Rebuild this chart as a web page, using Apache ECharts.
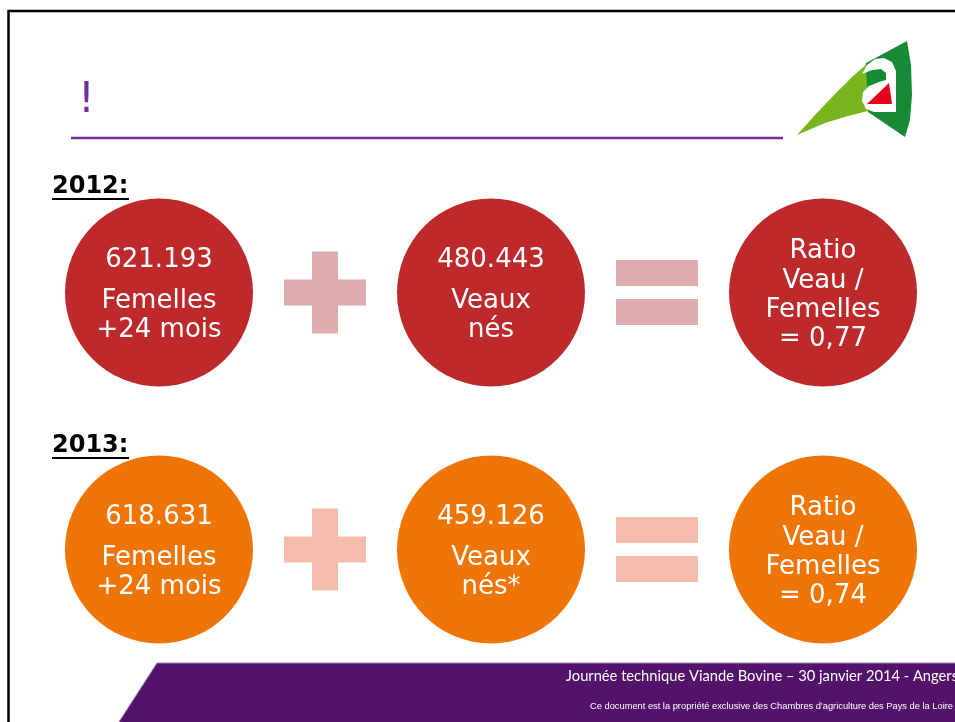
<!DOCTYPE html>
<html>
<head>
<meta charset="utf-8">
<script src="https://cdn.jsdelivr.net/npm/echarts@6/dist/echarts.min.js"></script>
<style>
  html, body { margin: 0; padding: 0; background: #fff; }
  #chart { width: 955px; height: 722px; }
</style>
</head>
<body>
<div id="chart"></div>
<script>
const years = ['2012', '2013']
const femelles = [621193, 618631]
const veaux = [480443, 459126]
const ratios = [0.77, 0.74]
const veauxNote = ['', '*']
const columns = ['femelles', 'plus', 'veaux', 'egal', 'ratio']

const rowColors = ['#BE2A2C', '#EE7506']
const signColors = ['#DDADAE', '#F4BDAB']
const font = '"DejaVu Sans", Verdana, sans-serif'

// 621193 -> 621.193
function fmt(n) {
  return String(n).replace(/\B(?=(\d{3})+(?!\d))/g, '.')
}

const circleData = []
const plusData = []
const egalData = []
years.forEach((y, i) => {
  circleData.push({
    value: [0, i],
    itemStyle: { color: rowColors[i] },
    label: { formatter: `{n|${fmt(femelles[i])}}\n{t|Femelles}\n{t|+24 mois}`, offset: [0, -3] },
  })
  circleData.push({
    value: [2, i],
    itemStyle: { color: rowColors[i] },
    label: { formatter: `{n|${fmt(veaux[i])}}\n{t|Veaux}\n{t|nés${veauxNote[i]}}`, offset: [0, -3] },
  })
  circleData.push({
    value: [4, i],
    itemStyle: { color: rowColors[i] },
    label: { formatter: `{t|Ratio}\n{t|Veau /}\n{t|Femelles}\n{t|= ${ratios[i].toFixed(2).replace('.', ',')}}`, offset: [0, 3] },
  })
  plusData.push({ value: [1, i], itemStyle: { color: signColors[i] } })
  egalData.push({ value: [3, i], itemStyle: { color: signColors[i] } })
})

// textes et décor de la diapo
const graphics = [
  { type: 'rect', shape: { x: 8.5, y: 11, width: 980, height: 740 }, style: { fill: 'none', stroke: '#000', lineWidth: 2.5 } },
  { type: 'text', x: 78, y: 101, style: { text: '!', font: '42px ' + font, fill: '#7030A0', verticalAlign: 'middle' } },
  { type: 'line', shape: { x1: 71, y1: 138, x2: 783, y2: 138 }, style: { stroke: '#7030A0', lineWidth: 2.5 } },
  // logo
  { type: 'polygon', shape: { points: [[797, 135], [815, 115], [835, 94], [852, 77], [868, 63], [868, 111], [848, 116], [825, 123]] }, style: { fill: '#79B51E' } },
  { type: 'polygon', shape: { points: [[907, 41], [866, 63], [868, 112], [905, 137], [910, 120], [912, 95], [911, 65]] }, style: { fill: '#178A36' } },
  {
    type: 'polygon',
    shape: { points: [[862, 74], [867, 65], [875, 59], [884, 58], [892, 62], [896, 71], [896, 112], [874, 112], [866, 109], [862, 101], [863, 92], [869, 86], [879, 82], [886, 80], [886, 73], [881, 69], [872, 70]] },
    style: { fill: '#fff' },
  },
  { type: 'polygon', shape: { points: [[867, 104], [889, 83], [892, 104]] }, style: { fill: '#E2001A' } },
  // bandeau bas
  { type: 'polygon', shape: { points: [[157, 663], [960, 663], [960, 725], [117, 725]] }, style: { fill: '#54136B', stroke: '#9C85AA', lineWidth: 1 } },
  { type: 'text', x: 958, y: 676, style: { text: 'Journée technique Viande Bovine – 30 janvier 2014 - Angers', font: '14.7px Lato, "Open Sans", sans-serif', fill: '#fff', align: 'right', verticalAlign: 'middle' } },
  { type: 'text', x: 953, y: 706, style: { text: 'Ce document est la propriété exclusive des Chambres d\'agriculture des Pays de la Loire', font: '9.3px "Liberation Sans Narrow", "Liberation Sans", sans-serif', fill: '#fff', align: 'right', verticalAlign: 'middle' } },
]
const yearY = [187, 446]
years.forEach((y, i) => {
  graphics.push({ type: 'text', x: 52, y: yearY[i], style: { text: y + ':', font: 'bold 24px ' + font, fill: '#000', verticalAlign: 'middle' } })
  graphics.push({ type: 'line', shape: { x1: 52, y1: yearY[i] + 12, x2: 129, y2: yearY[i] + 12 }, style: { stroke: '#000', lineWidth: 2 } })
})

const option = {
  animation: false,
  grid: { left: 76, top: 164, width: 830, height: 514 },
  xAxis: { type: 'category', data: columns, show: false },
  yAxis: { type: 'category', data: years, inverse: true, show: false },
  graphic: graphics,
  series: [
    {
      type: 'scatter',
      symbol: 'circle',
      symbolSize: 188,
      data: circleData,
      itemStyle: { opacity: 1 },
      label: {
        show: true,
        position: 'inside',
        color: '#fff',
        rich: {
          n: { fontFamily: font, fontSize: 26, lineHeight: 53, color: '#fff' },
          t: { fontFamily: font, fontSize: 26, lineHeight: 29.3, color: '#fff' },
        },
      },
      emphasis: { disabled: true },
    },
    {
      type: 'scatter',
      symbol: 'path://M28,0h26v28h28v26h-28v28h-26v-28h-28v-26h28z',
      symbolSize: 82,
      data: plusData,
      itemStyle: { opacity: 1 },
      emphasis: { disabled: true },
    },
    {
      type: 'scatter',
      symbol: 'path://M0,0h82v26h-82zM0,39h82v26h-82z',
      symbolSize: [82, 65],
      data: egalData,
      itemStyle: { opacity: 1 },
      emphasis: { disabled: true },
    },
  ],
}

const myChart = echarts.init(document.getElementById('chart'))
myChart.setOption(option)
</script>
</body>
</html>
